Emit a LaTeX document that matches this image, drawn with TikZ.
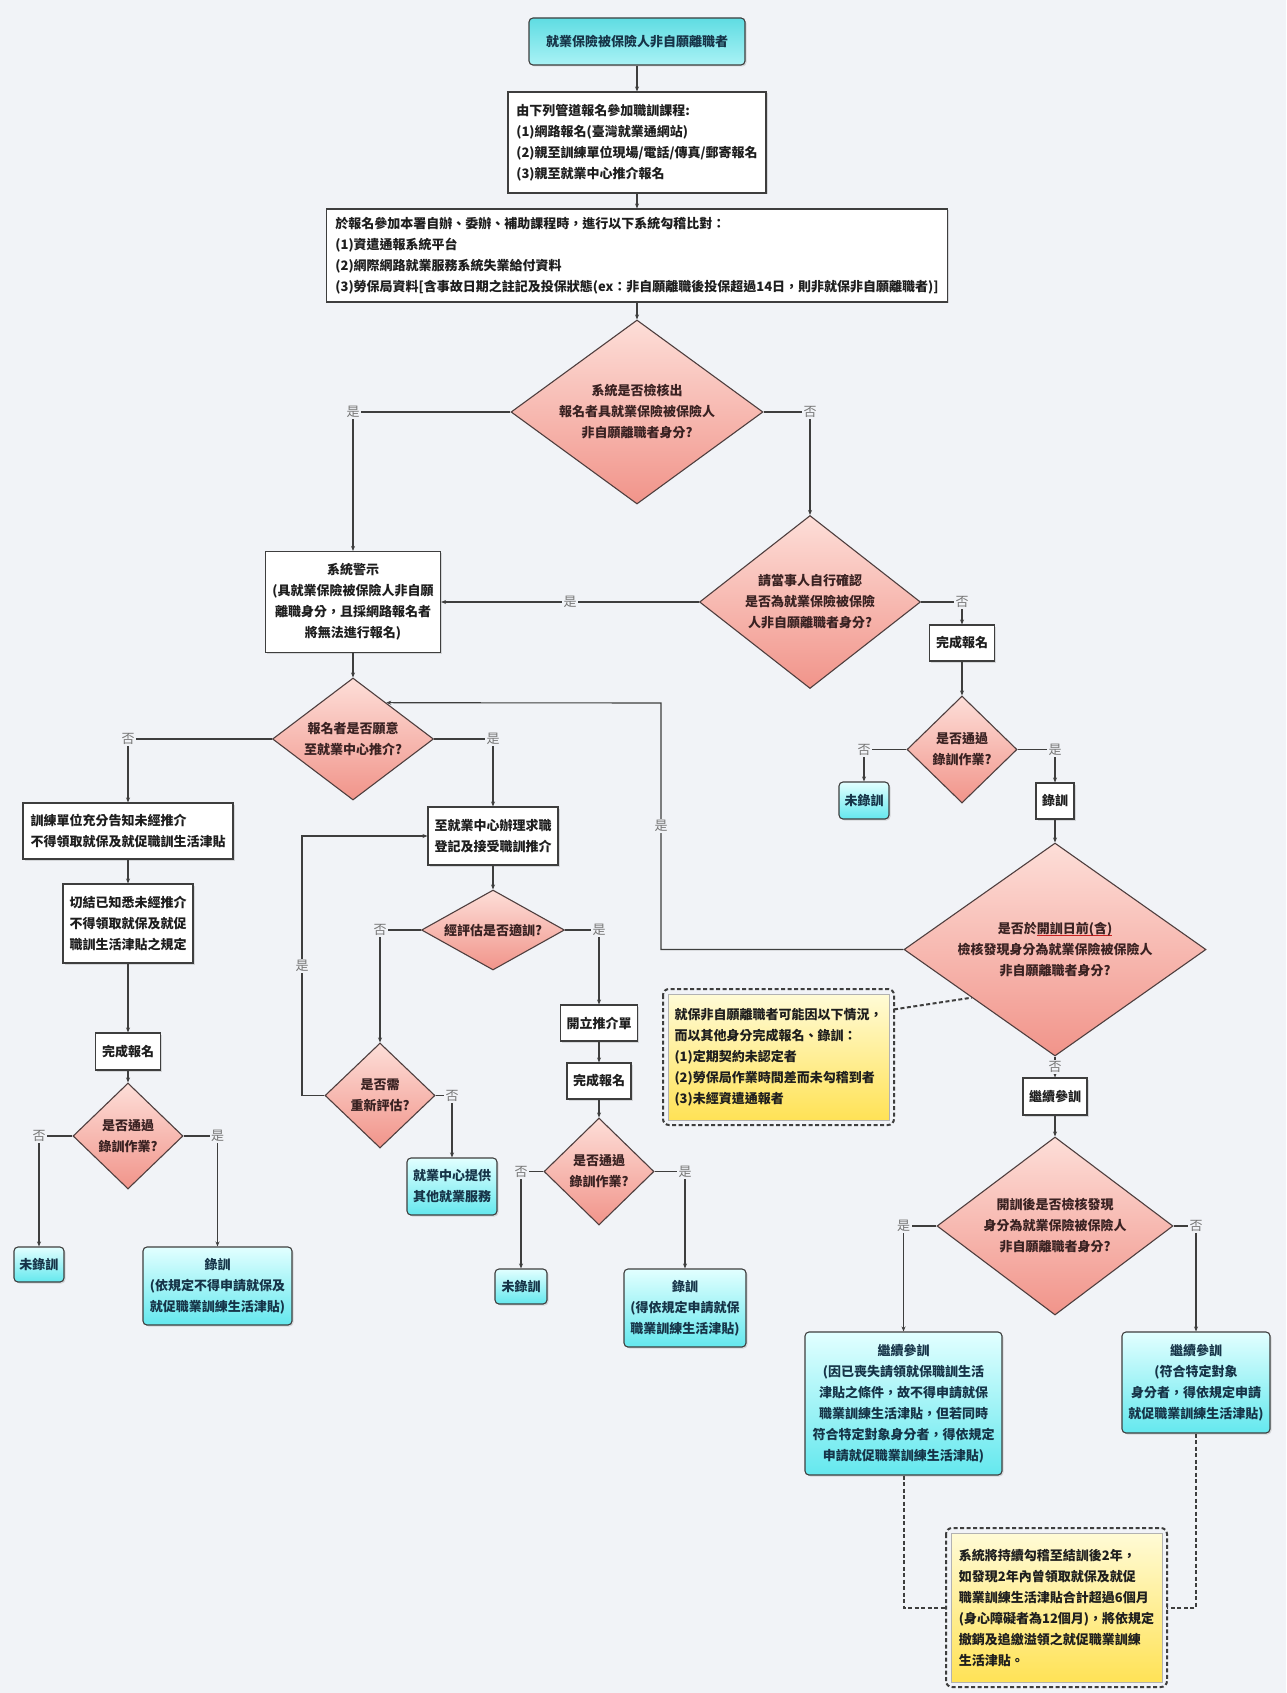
\documentclass[tikz,border=0pt]{standalone}
\usepackage{fontspec}
\setmainfont{Noto Sans CJK TC}
\usepackage{xcolor}
\usepackage{tikz}
\usetikzlibrary{arrows.meta, shapes.geometric, calc, shadows}

\definecolor{bg}{RGB}{241,243,247}
\definecolor{edge}{RGB}{62,62,62}
\definecolor{boxtext}{RGB}{30,30,30}
\definecolor{asktext}{RGB}{58,34,34}
\definecolor{askedge}{RGB}{78,62,62}
\definecolor{pinktop}{RGB}{253,222,216}
\definecolor{pinkbot}{RGB}{241,148,138}
\definecolor{cyantop}{RGB}{226,255,255}
\definecolor{cyanbot}{RGB}{100,232,238}
\definecolor{cyantext}{RGB}{22,52,72}
\definecolor{yeltop}{RGB}{255,251,214}
\definecolor{yelbot}{RGB}{255,226,86}
\definecolor{labgray}{RGB}{118,118,118}
\definecolor{ulred}{RGB}{200,30,30}

\newsavebox{\ulbox}
\newcommand{\redul}[1]{\sbox{\ulbox}{#1}\rlap{\textcolor{ulred}{\rule[-3pt]{\wd\ulbox}{1.3pt}}}\usebox{\ulbox}}

\begin{document}
\begin{tikzpicture}[
        x=1pt, y=-1pt,
        every node/.style={font=\bfseries\fontsize{13}{21}\selectfont, inner sep=0pt},
        box/.style={rectangle, draw=edge, line width=1.1pt, fill=white, text=boxtext,
            drop shadow={shadow xshift=1.5pt, shadow yshift=-1.5pt, opacity=0.25}},
        term/.style={box, rounded corners=4pt, top color=cyantop, bottom color=cyanbot, text=cyantext},
        ask/.style={diamond, draw=askedge, line width=1.1pt, top color=pinktop, bottom color=pinkbot,
            text=asktext, align=center},
        note/.style={rectangle, draw=black!30, line width=0.6pt, top color=yeltop, bottom color=yelbot,
            text=boxtext, align=left, outer sep=5pt},
        lab/.style={font=\fontsize{13}{15}\selectfont, text=labgray, fill=bg, inner sep=1.5pt},
        arr/.style={draw=edge, line width=1.1pt, -{Stealth[length=5pt, width=4pt]}},
        dashline/.style={draw=edge, line width=2pt, dash pattern=on 4pt off 2.5pt},
    ]
    \useasboundingbox (0,0) rectangle (1286,1693);
    \fill[bg] (0,0) rectangle (1286,1693);

    % main column
    \node[term, top color=cyanbot!95!black, bottom color=cyanbot!55!white, minimum width=216pt, minimum height=47pt] (start) at (637,41.5) {就業保險被保險人非自願離職者};
    \node[box, align=left, minimum width=258pt, minimum height=101pt] (ways) at (637,142.5) {由下列管道報名參加職訓課程:\\(1)網路報名(臺灣就業通網站)\\(2)親至訓練單位現場/電話/傳真/郵寄報名\\(3)親至就業中心推介報名};
    \node[box, align=left, minimum width=621pt, minimum height=93pt] (check) at (637,255.5) {於報名參加本署自辦、委辦、補助課程時，進行以下系統勾稽比對：\\(1)資遣通報系統平台\\(2)網際網路就業服務系統失業給付資料\\(3)勞保局資料[含事故日期之註記及投保狀態(ex：非自願離職後投保超過14日，則非就保非自願離職者)]};
    \node[ask, aspect=1.37, minimum width=252pt, minimum height=184pt] (found) at (637,412) {系統是否檢核出\\報名者具就業保險被保險人\\非自願離職者身分?};
    \node[box, align=center, minimum width=175pt, minimum height=101pt] (warn) at (353,602) {系統警示\\(具就業保險被保險人非自願\\離職身分，且採網路報名者\\將無法進行報名)};
    \node[ask, aspect=1.28, minimum width=221pt, minimum height=173pt] (self) at (810,602) {請當事人自行確認\\是否為就業保險被保險\\人非自願離職者身分?};

    % right column
    \node[box, minimum width=65pt, minimum height=36pt] (done1) at (962,643) {完成報名};
    \node[ask, aspect=1.03, minimum width=110pt, minimum height=107pt] (pass1q) at (962,749.5) {是否通過\\錄訓作業?};
    \node[term, minimum width=50pt, minimum height=37pt] (fail1) at (864,800.5) {未錄訓};
    \node[box, minimum width=38pt, minimum height=36pt] (admit1) at (1055,801) {錄訓};
    \node[ask, aspect=1.41, minimum width=302pt, minimum height=213pt] (before) at (1055,949.5) {是否於\redul{開訓日前(含)}\\檢核發現身分為就業保險被保險人\\非自願離職者身分?};
    \node[note, minimum width=221pt, minimum height=126pt] (noteA) at (778.5,1057) {就保非自願離職者可能因以下情況，\\而以其他身分完成報名、錄訓：\\(1)定期契約未認定者\\(2)勞保局作業時間差而未勾稽到者\\(3)未經資遣通報者};
    \node[box, minimum width=64pt, minimum height=37pt] (cont) at (1055,1096.5) {繼續參訓};
    \node[ask, aspect=1.33, minimum width=236pt, minimum height=178pt] (after) at (1055,1226) {開訓後是否檢核發現\\身分為就業保險被保險人\\非自願離職者身分?};
    \node[term, align=center, minimum width=197pt, minimum height=143pt] (keepA) at (903.5,1403.5) {繼續參訓\\(因已喪失請領就保職訓生活\\津貼之條件，故不得申請就保\\職業訓練生活津貼，但若同時\\符合特定對象身分者，得依規定\\申請就促職業訓練生活津貼)};
    \node[term, align=center, minimum width=148pt, minimum height=101pt] (keepB) at (1196,1382.5) {繼續參訓\\(符合特定對象\\身分者，得依規定申請\\就促職業訓練生活津貼)};
    \node[note, minimum width=211pt, minimum height=149pt] (noteB) at (1056.5,1607.5) {系統將持續勾稽至結訓後2年，\\如發現2年內曾領取就保及就促\\職業訓練生活津貼合計超過6個月\\(身心障礙者為12個月)，將依規定\\撤銷及追繳溢領之就促職業訓練\\生活津貼。};

    % left column
    \node[ask, aspect=1.32, minimum width=161pt, minimum height=122pt] (will) at (353,739) {報名者是否願意\\至就業中心推介?};
    \node[box, align=left, minimum width=210pt, minimum height=56pt] (notify) at (128,831) {訓練單位充分告知未經推介\\不得領取就保及就促職訓生活津貼};
    \node[box, align=left, minimum width=130pt, minimum height=79pt] (pledge) at (128,923.5) {切結已知悉未經推介\\不得領取就保及就促\\職訓生活津貼之規定};
    \node[box, minimum width=65pt, minimum height=37pt] (done2) at (128,1051.5) {完成報名};
    \node[ask, aspect=1.03, minimum width=110pt, minimum height=106pt] (pass2q) at (128,1136) {是否通過\\錄訓作業?};
    \node[term, minimum width=50pt, minimum height=35pt] (fail2) at (39,1264.5) {未錄訓};
    \node[term, align=center, minimum width=149pt, minimum height=78pt] (admit2) at (217.5,1286) {錄訓\\(依規定不得申請就保及\\就促職業訓練生活津貼)};

    % middle column
    \node[box, align=left, minimum width=130pt, minimum height=58pt] (center) at (493,836) {至就業中心辦理求職\\登記及接受職訓推介};
    \node[ask, aspect=1.79, minimum width=143pt, minimum height=80pt] (eval) at (493,930) {經評估是否適訓?};
    \node[ask, aspect=1.05, minimum width=110pt, minimum height=105pt] (reeval) at (380,1095.5) {是否需\\重新評估?};
    \node[term, align=center, minimum width=90pt, minimum height=57pt] (other) at (452,1186.5) {就業中心提供\\其他就業服務};
    \node[box, minimum width=77pt, minimum height=36pt] (refer) at (599,1023) {開立推介單};
    \node[box, minimum width=64pt, minimum height=36pt] (done3) at (599,1081) {完成報名};
    \node[ask, aspect=1.03, minimum width=110pt, minimum height=107pt] (pass3q) at (599,1171.5) {是否通過\\錄訓作業?};
    \node[term, minimum width=52pt, minimum height=35pt] (fail3) at (521,1286.5) {未錄訓};
    \node[term, align=center, minimum width=122pt, minimum height=78pt] (admit3) at (685,1308) {錄訓\\(得依規定申請就保\\職業訓練生活津貼)};

    \coordinate (back) at (661,703);
    \coordinate (loop) at (302,836);

    % note outlines
    \draw[dashline, rounded corners=6pt] (noteA.north west) rectangle (noteA.south east);
    \draw[dashline, rounded corners=6pt] (noteB.north west) rectangle (noteB.south east);

    % connectors
    \draw[arr] (start) -- (ways);
    \draw[arr] (ways) -- (check);
    \draw[arr] (check) -- (found);
    \draw[arr] (found.west) -| node[lab] {是} (warn.north);
    \draw[arr] (found.east) -| node[lab] {否} (self.north);
    \draw[arr] (self.west) -- node[lab] {是} (warn.east);
    \draw[arr] (self.east) -| node[lab] {否} (done1.north);
    \draw[arr] (done1) -- (pass1q);
    \draw[arr] (pass1q.west) -| node[lab] {否} (fail1.north);
    \draw[arr] (pass1q.east) -| node[lab] {是} (admit1.north);
    \draw[arr] (admit1) -- (before);
    \draw[arr] (before.west) -| node[lab, pos=0.75] {是} (back) -- ($(will.north)!0.41!(will.east)$);
    \draw[arr] (before.south) -- node[lab] {否} (cont.north);
    \draw[arr] (cont) -- (after);
    \draw[arr] (after.west) -| node[lab] {是} (keepA.north);
    \draw[arr] (after.east) -| node[lab] {否} (keepB.north);
    \draw[dashline] (keepA.south) |- (noteB.west);
    \draw[dashline] (keepB.south) |- (noteB.east);
    \draw[dashline] ($(noteA.north east)!0.15!(noteA.south east)$) -- ($(before.west)!0.45!(before.south)$);

    \draw[arr] (warn) -- (will);
    \draw[arr] (will.west) -| node[lab] {否} (notify.north);
    \draw[arr] (notify) -- (pledge);
    \draw[arr] (pledge) -- (done2);
    \draw[arr] (done2) -- (pass2q);
    \draw[arr] (pass2q.west) -| node[lab] {否} (fail2.north);
    \draw[arr] (pass2q.east) -| node[lab] {是} (admit2.north);

    \draw[arr] (will.east) -| node[lab] {是} (center.north);
    \draw[arr] (center) -- (eval);
    \draw[arr] (eval.west) -| node[lab] {否} (reeval.north);
    \draw[arr] (reeval.west) -| node[lab, pos=0.75] {是} (loop) -- (center.west);
    \draw[arr] (reeval.east) -| node[lab] {否} (other.north);
    \draw[arr] (eval.east) -| node[lab] {是} (refer.north);
    \draw[arr] (refer) -- (done3);
    \draw[arr] (done3) -- (pass3q);
    \draw[arr] (pass3q.west) -| node[lab] {否} (fail3.north);
    \draw[arr] (pass3q.east) -| node[lab] {是} (admit3.north);

\end{tikzpicture}
\end{document}
